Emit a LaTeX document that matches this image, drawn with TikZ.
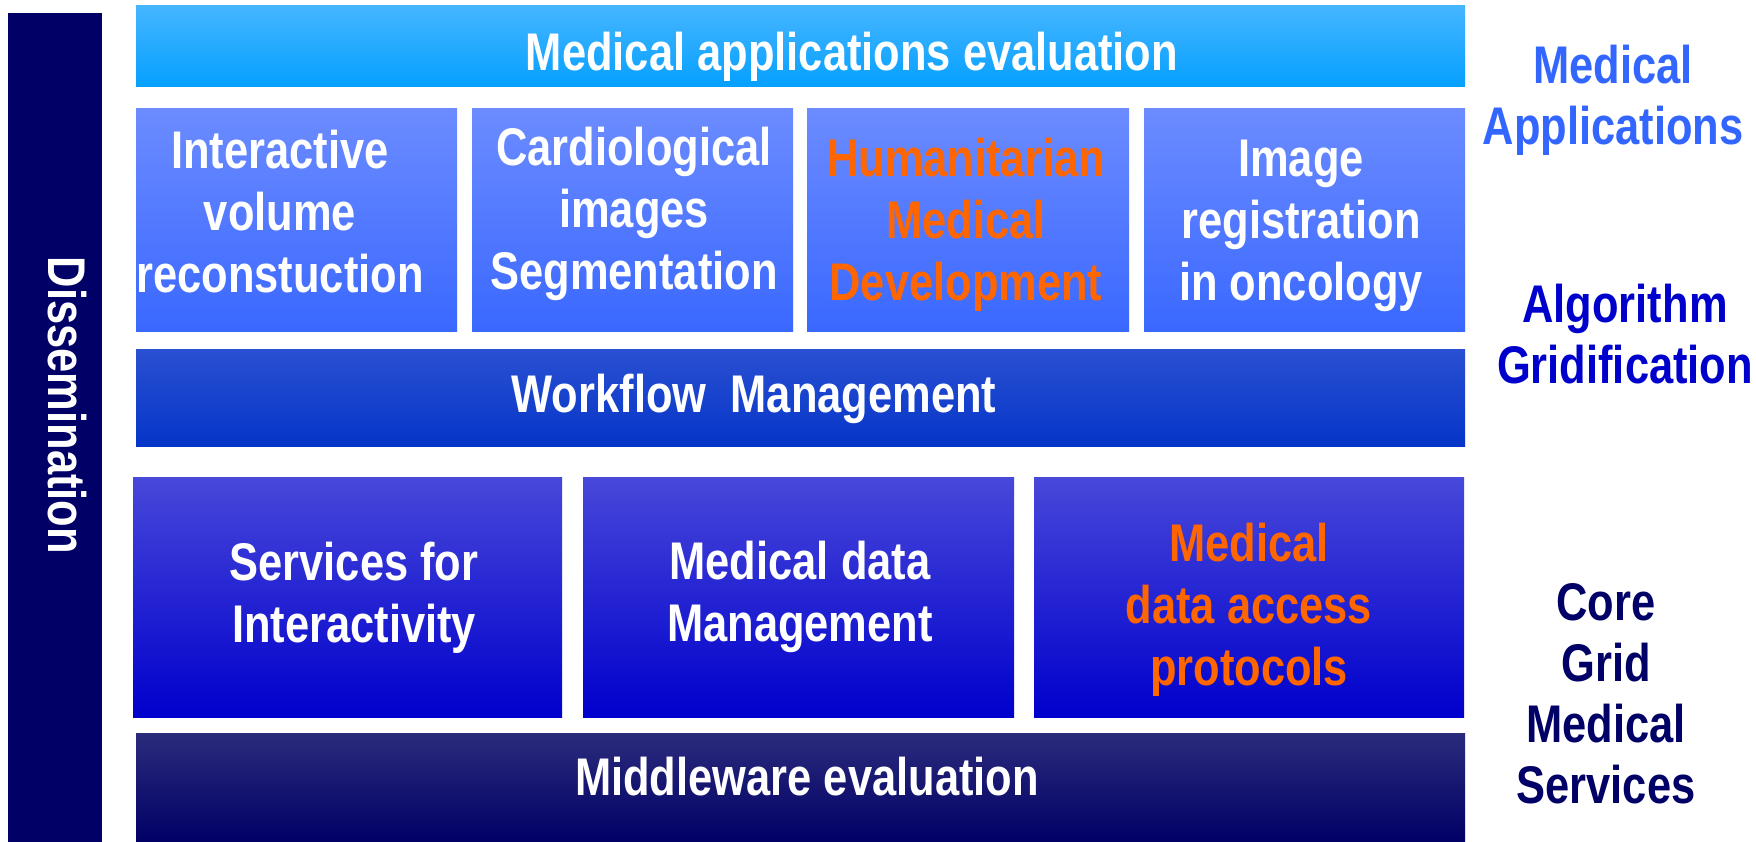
\documentclass[tikz,border=0pt]{standalone}
\usepackage{fontspec}
\setmainfont{Liberation Sans}[FakeStretch=0.82]
\begin{document}
\begin{tikzpicture}[x=1pt,y=-1pt,
  lbl/.style={text=white,font=\bfseries\fontsize{53}{62}\selectfont,align=center,inner sep=0pt,outer sep=0pt,anchor=base},
  sidelbl/.style={lbl,font=\bfseries\fontsize{53}{61}\selectfont}]
\definecolor{dissColor}{RGB}{0,0,102}
\definecolor{evalTop}{RGB}{69,181,255}
\definecolor{evalBot}{RGB}{5,160,255}
\definecolor{appTop}{RGB}{107,139,255}
\definecolor{appBot}{RGB}{58,104,255}
\definecolor{wfTop}{RGB}{42,80,210}
\definecolor{wfBot}{RGB}{5,53,200}
\definecolor{coreTop}{RGB}{72,72,218}
\definecolor{coreBot}{RGB}{0,0,204}
\definecolor{mwTop}{RGB}{43,43,124}
\definecolor{mwBot}{RGB}{0,0,102}
\definecolor{hiColor}{RGB}{255,102,0}
\definecolor{appColor}{RGB}{51,102,255}
\definecolor{algColor}{RGB}{0,0,204}
\path[use as bounding box,fill=white] (0,0) rectangle (1756,842);

% dissemination bar
\path[fill=dissColor] (8,13) rectangle (102,842);
\node[lbl,rotate=-90] (diss) at (48,405.5) {Dissemination};

% medical applications (base = last line)
\shade[top color=evalTop,bottom color=evalBot] (136,6) rectangle (1465,87);
\node[lbl] (appeval) at (852,71) {Medical applications evaluation};

\shade[top color=appTop,bottom color=appBot] (136,109) rectangle (457,331);
\shade[top color=appTop,bottom color=appBot] (472,109) rectangle (793,331);
\shade[top color=appTop,bottom color=appBot] (807,109) rectangle (1129,331);
\shade[top color=appTop,bottom color=appBot] (1144,109) rectangle (1465,331);
\node[lbl] (volrec) at (280,293) {Interactive\\volume\\reconstuction};
\node[lbl] (cardseg) at (634,290) {Cardiological\\images\\Segmentation};
\node[lbl,text=hiColor] (humdev) at (966,301) {Humanitarian\\Medical\\Development};
\node[lbl] (imgreg) at (1301,301) {Image\\registration\\in oncology};

% algorithm gridification
\shade[top color=wfTop,bottom color=wfBot] (136,349) rectangle (1465,446);
\node[lbl] (workflow) at (754,412) {Workflow\ \ Management};

% core grid medical services
\shade[top color=coreTop,bottom color=coreBot] (133,477) rectangle (562,717);
\shade[top color=coreTop,bottom color=coreBot] (583,477) rectangle (1014,717);
\shade[top color=coreTop,bottom color=coreBot] (1034,477) rectangle (1464,717);
\node[lbl] (interact) at (354,642) {Services for\\Interactivity};
\node[lbl] (datamgmt) at (800,641) {Medical data\\Management};
\node[lbl,text=hiColor] (access) at (1249,685) {Medical\\data access\\protocols};

\shade[top color=mwTop,bottom color=mwBot] (136,733) rectangle (1465,842);
\node[lbl] (mweval) at (807,795) {Middleware evaluation};

% layer names
\node[sidelbl,text=appColor] (medapp) at (1613,145) {Medical\\Applications};
\node[sidelbl,text=algColor] (algrid) at (1625,383) {Algorithm\\Gridification};
\node[sidelbl,text=dissColor] (coregrid) at (1606,803) {Core\\Grid\\Medical\\Services};
\end{tikzpicture}
\end{document}
